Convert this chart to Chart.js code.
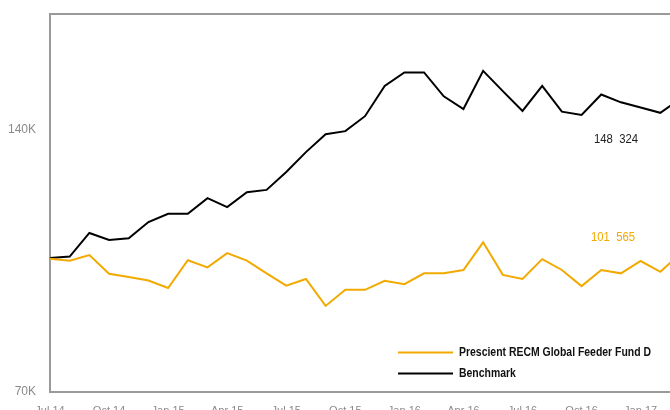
<!DOCTYPE html>
<html>
<head>
<meta charset="utf-8">
<script src="https://cdn.jsdelivr.net/npm/chart.js@4.4.1/dist/chart.umd.min.js"></script>
<style>
  html, body { margin: 0; padding: 0; background: #fff; overflow: hidden; width: 670px; height: 410px; }
  #wrap { position: absolute; left: 0; top: 0; width: 700px; height: 420px; }
</style>
</head>
<body>
<div id="wrap"><canvas id="chart" width="700" height="420"></canvas></div>
<script>
// months, Jul 14 .. Mar 17
const months = [
  'Jul 14', 'Aug 14', 'Sep 14', 'Oct 14', 'Nov 14', 'Dec 14',
  'Jan 15', 'Feb 15', 'Mar 15', 'Apr 15', 'May 15', 'Jun 15',
  'Jul 15', 'Aug 15', 'Sep 15', 'Oct 15', 'Nov 15', 'Dec 15',
  'Jan 16', 'Feb 16', 'Mar 16', 'Apr 16', 'May 16', 'Jun 16',
  'Jul 16', 'Aug 16', 'Sep 16', 'Oct 16', 'Nov 16', 'Dec 16',
  'Jan 17', 'Feb 17', 'Mar 17'
];

// values in thousands
const fundValues = [
  105.6, 105.1, 106.6, 101.6, 100.7, 99.8, 97.8, 105.2, 103.3, 107.1, 105.1, 101.7,
  98.4, 100.2, 93.0, 97.3, 97.3, 99.7, 98.8, 101.7, 101.7, 102.6, 110.0, 101.3,
  100.2, 105.5, 102.6, 98.3, 102.6, 101.7, 105.0, 102.1, 106.9
];

const benchmarkValues = [
  105.8, 106.2, 112.5, 110.6, 111.1, 115.4, 117.6, 117.6, 121.8, 119.4, 123.4, 124.0,
  128.8, 134.1, 138.9, 139.7, 143.7, 151.8, 155.4, 155.4, 149.0, 145.6, 155.8, 150.4,
  145.1, 151.8, 144.9, 144.0, 149.5, 147.4, 146.0, 144.6, 148.3
];

const yTicks = [70, 140];

const fundName = 'Prescient RECM Global Feeder Fund D';
const benchName = 'Benchmark';
const fundLabel = '101  565';
const benchLabel = '148  324';

const ORANGE = '#F2A900';
const BLACK = '#000000';
const FRAME = '#9a9a9a';
const FONT = '"Liberation Sans", Arial, sans-serif';
const NARROW = 0.87; // squeeze to look like a narrow face

// draw text squeezed horizontally, starting at x
function narrowText(ctx, text, x, y) {
  ctx.save();
  ctx.translate(x, y);
  ctx.scale(NARROW, 1);
  ctx.fillText(text, 0, 0);
  ctx.restore();
}

const framePlugin = {
  id: 'frame',
  beforeDatasetsDraw(chart) {
    const { ctx, chartArea: a } = chart;
    ctx.save();
    ctx.strokeStyle = FRAME;
    ctx.lineWidth = 2;
    ctx.beginPath();
    ctx.moveTo(chart.width, a.top);
    ctx.lineTo(a.left, a.top);
    ctx.lineTo(a.left, a.bottom);
    ctx.lineTo(chart.width, a.bottom);
    ctx.stroke();
    ctx.restore();
  },
  afterDatasetsDraw(chart) {
    const { ctx } = chart;
    ctx.save();
    ctx.font = '13px ' + FONT;
    ctx.textBaseline = 'middle';
    ctx.textAlign = 'left';
    ctx.fillStyle = '#222';
    narrowText(ctx, benchLabel, 594, 139);
    ctx.fillStyle = ORANGE;
    narrowText(ctx, fundLabel, 591, 237);

    // legend
    const items = [
      { text: fundName, color: ORANGE, y: 352.5 },
      { text: benchName, color: BLACK, y: 373.5 }
    ];
    ctx.font = 'bold 12px ' + FONT;
    items.forEach(it => {
      ctx.strokeStyle = it.color;
      ctx.lineWidth = 2;
      ctx.beginPath();
      ctx.moveTo(398, it.y);
      ctx.lineTo(453, it.y);
      ctx.stroke();
      ctx.fillStyle = '#111';
      narrowText(ctx, it.text, 459, it.y);
    });
    ctx.restore();
  }
};

new Chart(document.getElementById('chart'), {
  type: 'line',
  data: {
    labels: months,
    datasets: [
      {
        label: fundName,
        data: fundValues,
        borderColor: ORANGE,
        borderWidth: 2,
        pointRadius: 0,
        tension: 0
      },
      {
        label: benchName,
        data: benchmarkValues,
        borderColor: BLACK,
        borderWidth: 2,
        pointRadius: 0,
        tension: 0
      }
    ]
  },
  options: {
    responsive: false,
    animation: false,
    layout: { padding: { left: 0, top: 14, right: 20, bottom: 0 } },
    scales: {
      x: {
        offset: false,
        grid: { display: false, drawTicks: false },
        border: { display: false },
        afterFit: s => { s.height = 28; },
        ticks: {
          autoSkip: false,
          maxRotation: 0,
          padding: 12,
          color: '#8a8a8a',
          font: { family: FONT, size: 11 },
          callback: function (v, i) { return i % 3 === 0 ? this.getLabelForValue(v) : ''; }
        }
      },
      y: {
        min: 70,
        max: 171,
        grid: { display: false, drawTicks: false },
        border: { display: false },
        afterFit: s => { s.width = 50; s.paddingTop = 0; s.paddingBottom = 0; },
        afterBuildTicks: s => { s.ticks = yTicks.map(v => ({ value: v })); },
        ticks: {
          padding: 14,
          color: '#8a8a8a',
          font: { family: FONT, size: 12 },
          callback: v => v + 'K'
        }
      }
    },
    plugins: {
      legend: { display: false },
      tooltip: { enabled: false }
    }
  },
  plugins: [framePlugin]
});
</script>
</body>
</html>
